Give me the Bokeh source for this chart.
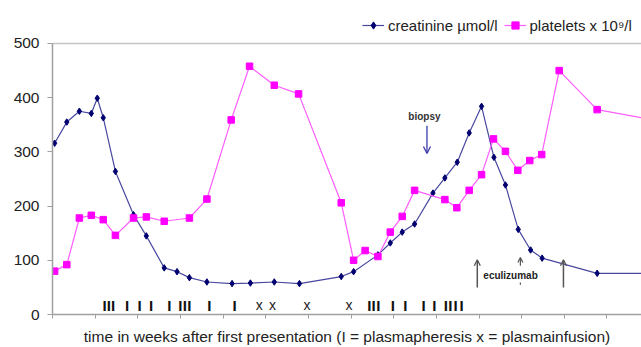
from bokeh.plotting import figure
from bokeh.models import (Range1d, FixedTicker, Legend, LegendItem, Arrow, OpenHead,
                          Label, CustomJSTickFormatter)
from bokeh.core.properties import value
from bokeh.embed import file_html
from bokeh.resources import INLINE

FONT = "Liberation Sans"

# ---- data (x in weeks after first presentation) ----
creat_weeks = [0.05, 0.335, 0.63, 0.91, 1.05, 1.19, 1.475, 1.90, 2.20, 2.62, 2.92, 3.21,
               3.62, 4.21, 4.64, 5.20, 5.79, 6.77, 7.06, 7.63, 7.92, 8.20, 8.49, 8.92,
               9.20, 9.49, 9.77, 10.06, 10.35, 10.62, 10.92, 11.21, 11.48, 12.77, 14.3]
creatinine = [316, 355, 375, 371, 399, 363, 264, 184, 145, 86, 79, 68,
              60, 57, 58, 60, 57, 70, 79, 110, 132, 152, 167, 224,
              252, 281, 335, 384, 290, 239, 157, 119, 104, 76, 76]

plt_weeks = [0.05, 0.335, 0.63, 0.91, 1.19, 1.475, 1.90, 2.20, 2.62, 3.21, 3.62, 4.19,
             4.62, 5.20, 5.77, 6.77, 7.06, 7.33, 7.63, 7.92, 8.20, 8.49, 9.20, 9.48,
             9.77, 10.06, 10.34, 10.62, 10.91, 11.19, 11.47, 11.88, 12.77, 14.3]
platelets = [80, 92, 178, 183, 175, 146, 178, 180, 172, 178, 213, 359,
             458, 423, 407, 206, 100, 118, 107, 152, 181, 229, 212, 197,
             229, 258, 324, 301, 266, 284, 295, 450, 378, 356]

plasmapheresis_weeks = [1.22, 1.32, 1.42, 1.75, 2.04, 2.31, 2.74, 3.00, 3.10, 3.21, 3.68, 4.27,
                        7.43, 7.53, 7.64, 7.98, 8.27, 8.70, 8.95, 9.22, 9.33, 9.45, 9.59]
plasmainfusion_weeks = [4.85, 5.16, 5.97, 6.95]

biopsy_week = 8.78
eculizumab_weeks = [9.96, 10.97, 11.98]

y_ticks = [0, 100, 200, 300, 400, 500]
x_ticks = list(range(0, 14))

# frame spans the full height above the x axis; value 500 sits 43px below the top
p = figure(width=641, height=347, output_backend="svg", toolbar_location=None,
           x_range=Range1d(0, 13.81), y_range=Range1d(0, 579.3),
           min_border_left=52, min_border_right=0, min_border_top=0, min_border_bottom=33)
p.outline_line_color = None
p.background_fill_color = "white"

# axes
p.yaxis.ticker = FixedTicker(ticks=y_ticks)
p.yaxis.bounds = (0, 500)
p.yaxis.major_label_text_font = FONT
p.yaxis.major_label_text_font_size = "15.5px"
p.yaxis.major_label_text_color = "#222222"
p.yaxis.major_label_standoff = 8
p.yaxis.major_tick_out = 5
p.yaxis.major_tick_in = 0
p.yaxis.minor_tick_line_color = None
p.yaxis.axis_line_color = "#a0a0a0"
p.yaxis.major_tick_line_color = "#a0a0a0"
p.yaxis.axis_line_width = 1.5

p.xaxis.ticker = FixedTicker(ticks=x_ticks)
p.xaxis.formatter = CustomJSTickFormatter(code="return ''")
p.xaxis.major_label_text_font_size = "1px"
p.xaxis.major_label_standoff = 0
p.xaxis.major_tick_out = 4
p.xaxis.major_tick_in = 0
p.xaxis.minor_tick_line_color = None
p.xaxis.axis_line_color = "#a0a0a0"
p.xaxis.major_tick_line_color = "#a0a0a0"
p.xaxis.axis_line_width = 1.5
p.xaxis.axis_label = "time in weeks after first presentation (I = plasmapheresis x = plasmainfusion)"
p.xaxis.axis_label_text_font = FONT
p.xaxis.axis_label_text_font_size = "15.5px"
p.xaxis.axis_label_text_font_style = "normal"
p.xaxis.axis_label_text_color = "#222222"
p.xaxis.axis_label_standoff = 9

p.xgrid.visible = False
p.ygrid.ticker = FixedTicker(ticks=[500])
p.ygrid.grid_line_color = "#c4c4c4"
p.ygrid.grid_line_width = 1.5

# series
cl = p.line(creat_weeks, creatinine, line_color="#4848a0", line_width=1.2)
cm = p.scatter(creat_weeks, creatinine, marker="diamond", size=6.5,
               fill_color="#000070", line_color="#000070")
pl = p.line(plt_weeks, platelets, line_color="#ff5cff", line_width=1.2)
pm = p.scatter(plt_weeks, platelets, marker="square", size=6.5,
               fill_color="#ff00ff", line_color="#ff00ff")

# treatment marks
mark_y = 16.6
p.text(x=plasmapheresis_weeks, y=[mark_y] * len(plasmapheresis_weeks),
       text=["I"] * len(plasmapheresis_weeks), text_font=value(FONT),
       text_font_style="bold", text_font_size="15px", text_color="#111111",
       text_align="center", text_baseline="middle")
p.text(x=plasmainfusion_weeks, y=[mark_y + 1] * len(plasmainfusion_weeks),
       text=["x"] * len(plasmainfusion_weeks), text_font=value(FONT),
       text_font_size="14px", text_color="#222222",
       text_align="center", text_baseline="middle")

# biopsy annotation
p.add_layout(Label(x=biopsy_week - 0.06, y=366, text="biopsy", text_font=FONT,
                   text_font_size="10px", text_font_style="bold", text_color="#333333",
                   text_align="center", text_baseline="middle"))
p.add_layout(Arrow(x_start=biopsy_week, y_start=348, x_end=biopsy_week, y_end=297,
                   line_color="#3a3aa8", line_width=1.3,
                   end=OpenHead(size=7, line_color="#3a3aa8", line_width=1.3)))

# eculizumab annotation
for i, w in enumerate(eculizumab_weeks):
    if i == 1:
        p.add_layout(Arrow(x_start=w, y_start=90, x_end=w, y_end=105,
                           line_color="#555555", line_width=1.2,
                           end=OpenHead(size=5, line_color="#555555", line_width=1.2)))
        p.segment(x0=[w], y0=[55], x1=[w], y1=[59], line_color="#555555", line_width=1.2)
    else:
        p.add_layout(Arrow(x_start=w, y_start=50, x_end=w, y_end=101,
                           line_color="#555555", line_width=1.5,
                           end=OpenHead(size=6, line_color="#555555", line_width=1.3)))
p.add_layout(Label(x=eculizumab_weeks[1] - 0.23, y=72, text="eculizumab", text_font=FONT,
                   text_font_size="10px", text_font_style="bold", text_color="#222222",
                   text_align="center", text_baseline="middle"))

# legend (inside the frame, above the 500 line)
legend = Legend(items=[LegendItem(label="creatinine µmol/l", renderers=[cl, cm]),
                       LegendItem(label="platelets x 10⁹/l", renderers=[pl, pm])],
                orientation="horizontal", location=(310, 280),
                label_text_font=FONT, label_text_font_size="15px", label_text_color="#222222",
                glyph_width=22, glyph_height=18, label_standoff=4, spacing=6,
                padding=0, margin=0, border_line_alpha=0, background_fill_alpha=0,
                label_height=18)
p.add_layout(legend, "center")

open("out.html", "w").write(file_html(p, INLINE))
